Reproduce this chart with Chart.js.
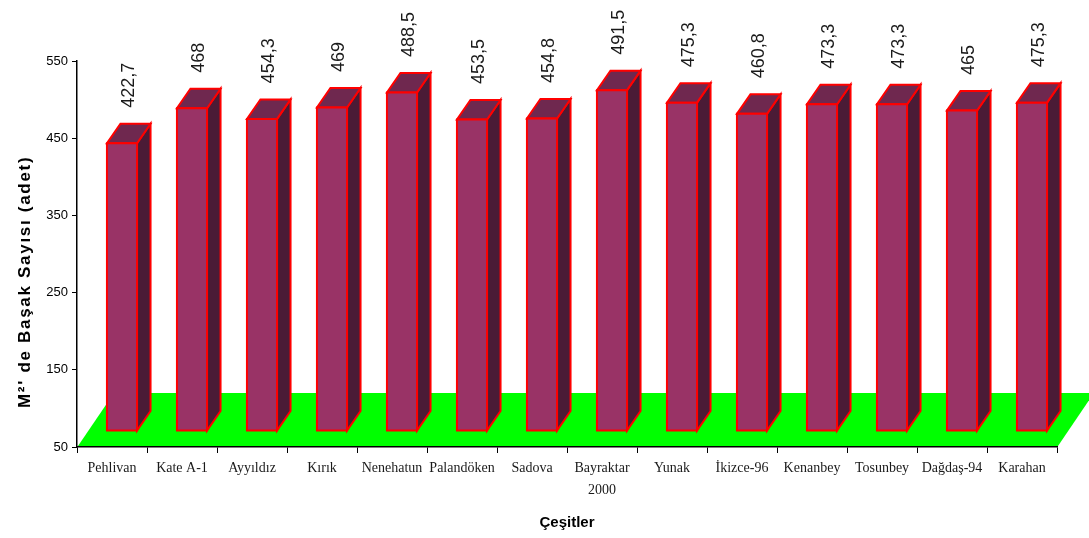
<!DOCTYPE html>
<html lang="tr">
<head>
<meta charset="utf-8">
<title>M² de Başak Sayısı</title>
<script src="https://cdn.jsdelivr.net/npm/chart.js@4"></script>
<style>
  html, body { margin: 0; padding: 0; background: #ffffff; }
  #wrap { width: 1089px; height: 538px; }
</style>
</head>
<body>
<div id="wrap"><canvas id="chart" width="1089" height="538"></canvas></div>
<script>
// Wheat cultivars and their spike counts per square metre
const categories = ['Pehlivan', 'Kate A-1', 'Ayyıldız', 'Kırık', 'Nenehatun', 'Palandöken', 'Sadova',
  ['Bayraktar', '2000'], 'Yunak', 'İkizce-96', 'Kenanbey', 'Tosunbey', 'Dağdaş-94', 'Karahan'];
const spikeCounts = [422.7, 468, 454.3, 469, 488.5, 453.5, 454.8, 491.5, 475.3, 460.8, 473.3, 473.3, 465, 475.3];
const yTickValues = [50, 150, 250, 350, 450, 550];
const axisMin = 50;
const axisMax = 550;

const yTitle = "M²' de Başak Sayısı (adet)";
const xTitle = 'Çeşitler';

// 3D look: depth of the floor and of each box (pixels)
const FLOOR_DX = 36, FLOOR_DY = -53;
const BOX_DX = 13.5, BOX_DY = -19.5;
const FRONT_SHIFT_X = 10, FRONT_SHIFT_Y = -16;

const COLORS = {
  front: '#993366',
  top: '#6f284f',
  side: '#4b1b36',
  edge: '#ff0000',
  floor: '#00ff00'
};

const fmt = v => String(v).replace('.', ',');

const boxes3d = {
  id: 'boxes3d',
  beforeDatasetsDraw(chart) {
    const { ctx, scales: { x, y } } = chart;
    const y0 = y.getPixelForValue(axisMin) - 1;
    ctx.save();
    ctx.fillStyle = COLORS.floor;
    ctx.beginPath();
    ctx.moveTo(x.left + 1, y0);
    ctx.lineTo(x.right + 1, y0);
    ctx.lineTo(x.right + 1 + FLOOR_DX, y0 + FLOOR_DY);
    ctx.lineTo(x.left + 1 + FLOOR_DX, y0 + FLOOR_DY);
    ctx.closePath();
    ctx.fill();
    ctx.restore();
  },
  afterDatasetsDraw(chart) {
    const { ctx } = chart;
    const meta = chart.getDatasetMeta(0);
    const values = chart.data.datasets[0].data;
    ctx.save();
    ctx.lineWidth = 2;
    ctx.lineJoin = 'miter';
    ctx.strokeStyle = COLORS.edge;
    meta.data.forEach((bar, i) => {
      const p = bar.getProps(['x', 'y', 'base', 'width'], true);
      const l = p.x + FRONT_SHIFT_X - p.width / 2;
      const r = l + p.width;
      const t = p.y + FRONT_SHIFT_Y;
      const b = p.base + FRONT_SHIFT_Y;

      // side face
      ctx.beginPath();
      ctx.moveTo(r, t);
      ctx.lineTo(r + BOX_DX, t + BOX_DY);
      ctx.lineTo(r + BOX_DX, b + BOX_DY);
      ctx.lineTo(r, b);
      ctx.closePath();
      ctx.fillStyle = COLORS.side;
      ctx.fill();
      ctx.stroke();

      // top face
      ctx.beginPath();
      ctx.moveTo(l, t);
      ctx.lineTo(r, t);
      ctx.lineTo(r + BOX_DX, t + BOX_DY);
      ctx.lineTo(l + BOX_DX, t + BOX_DY);
      ctx.closePath();
      ctx.fillStyle = COLORS.top;
      ctx.fill();
      ctx.stroke();

      // front face
      ctx.beginPath();
      ctx.rect(l, t, p.width, b - t);
      ctx.fillStyle = COLORS.front;
      ctx.fill();
      ctx.stroke();

      // value label, rotated, above the box
      ctx.save();
      ctx.translate(p.x + FRONT_SHIFT_X + BOX_DX / 2, t + BOX_DY - 16);
      ctx.rotate(-Math.PI / 2);
      ctx.font = '18px "Liberation Sans", Arial, sans-serif';
      ctx.fillStyle = '#1a1a1a';
      ctx.textAlign = 'left';
      ctx.textBaseline = 'middle';
      ctx.fillText(fmt(values[i]), 0, 0);
      ctx.restore();
    });
    ctx.restore();
  },
  afterDraw(chart) {
    // value axis title
    const { ctx } = chart;
    ctx.save();
    ctx.translate(30, 408);
    ctx.rotate(-Math.PI / 2);
    ctx.font = 'bold 17px "Liberation Sans", Arial, sans-serif';
    if ('letterSpacing' in ctx) ctx.letterSpacing = '1.7px';
    ctx.fillStyle = '#000000';
    ctx.textAlign = 'left';
    ctx.textBaseline = 'alphabetic';
    ctx.fillText(yTitle, 0, 0);
    ctx.restore();
  }
};

new Chart(document.getElementById('chart'), {
  type: 'bar',
  data: {
    labels: categories,
    datasets: [{
      data: spikeCounts,
      base: axisMin,
      backgroundColor: 'rgba(0,0,0,0)',
      borderWidth: 0,
      barPercentage: 0.43,
      categoryPercentage: 1
    }]
  },
  options: {
    responsive: false,
    animation: false,
    events: [],
    layout: { padding: { top: 61, right: 32, left: 0, bottom: 0 } },
    plugins: {
      legend: { display: false },
      tooltip: { enabled: false }
    },
    scales: {
      x: {
        grid: { offset: true, drawOnChartArea: false, drawTicks: true, tickLength: 6, color: '#000000', lineWidth: 1 },
        border: { display: true, color: '#000000', width: 1.5 },
        ticks: {
          color: '#1a1a1a',
          font: { family: '"Liberation Serif", "Times New Roman", serif', size: 14, lineHeight: 1.57 },
          padding: 4,
          maxRotation: 0,
          autoSkip: false
        },
        title: {
          display: true,
          text: xTitle,
          color: '#000000',
          font: { family: '"Liberation Sans", Arial, sans-serif', size: 15, weight: 'bold', lineHeight: 1.2 },
          padding: { top: 0, bottom: 6 }
        },
        afterFit(scale) { scale.height = 538 - 447; }
      },
      y: {
        min: axisMin,
        max: axisMax,
        afterBuildTicks(scale) { scale.ticks = yTickValues.map(v => ({ value: v })); },
        grid: { drawOnChartArea: false, drawTicks: true, tickLength: 5, color: '#000000', lineWidth: 1 },
        border: { display: true, color: '#000000', width: 1.5 },
        ticks: {
          color: '#000000',
          font: { family: '"Liberation Sans", Arial, sans-serif', size: 13 },
          padding: 4,
          callback: v => String(v)
        },
        afterFit(scale) { scale.width = 77; }
      }
    }
  },
  plugins: [boxes3d]
});
</script>
</body>
</html>
